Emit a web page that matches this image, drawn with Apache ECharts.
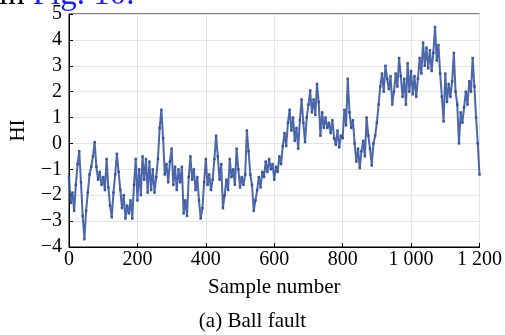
<!DOCTYPE html>
<html>
<head>
<meta charset="utf-8">
<script src="https://cdn.jsdelivr.net/npm/echarts@6/dist/echarts.min.js"></script>
<style>
  html, body { margin: 0; padding: 0; background: #fff; }
  #chart { width: 505px; height: 335px; }
</style>
</head>
<body>
<div id="chart"></div>
<script>
// Health indicator (HI) of the ball-fault bearing, one reading every 5 samples
const sampleStep = 5;
const hiValues = [
  -1.3, -2.3, -1.9, -2.6, -1.6, -0.8, -0.3, -1.5, -2.8, -3.7,
  -2.6, -1.9, -1.2, -0.9, -0.5, 0.05, -0.9, -1.4, -1.1, -1.6,
  -1.3, -1.8, -0.6, -1.7, -2.4, -2.85, -1.9, -1.2, -0.4, -1.1,
  -1.8, -2.5, -2.0, -2.9, -2.4, -2.7, -2.2, -2.9, -1.6, -0.6,
  -2.2, -1.0, -2.0, -0.5, -1.4, -0.6, -1.9, -0.7, -1.8, -1.0,
  -1.9, -1.3, -0.6, 0.6, 1.3, 0.2, -1.2, -0.8, -1.5, -0.7,
  -0.2, -1.6, -0.9, -1.8, -1.0, -1.5, -0.9, -2.7, -2.2, -2.8,
  -1.3, -0.5, -1.4, -1.0, -1.8, -1.3, -2.2, -2.9, -2.5, -1.5,
  -0.6, -1.6, -1.2, -1.8, -1.4, -0.6, 0.3, -0.5, -1.4, -0.8,
  -2.5, -2.0, -1.4, -1.8, -0.6, -1.3, -1.0, -1.6, -0.2, -1.0,
  -1.7, -1.3, -1.6, -1.2, 0.5, -0.3, -1.2, -1.6, -2.6, -2.2,
  -1.8, -1.3, -1.7, -1.1, -1.3, -0.7, -1.1, -0.6, -1.0, -0.8,
  -1.4, -0.9, -1.1, -0.5, -0.8, -0.1, 0.4, -0.1, 0.8, 1.3,
  0.5, 1.0, 0.1, 0.6, -0.2, 0.9, 1.7, 0.8, 0.05, 1.0,
  1.5, 2.05, 1.2, 1.7, 1.1, 2.3, 1.6, 0.3, 1.2, 0.6,
  1.0, 0.6, 0.8, 0.4, 0.9, 0.2, -0.05, 0.5, -0.15, 0.3,
  0.2, 1.3, 0.7, 2.5, 1.2, 0.6, 0.9, 0.0, -0.7, -0.2,
  -0.95, -0.3, 0.1, -0.5, 1.0, 0.3, -0.2, -0.85, 0.0, 0.3,
  0.8, 1.5, 2.2, 2.7, 2.0, 3.0, 2.5, 2.1, 2.6, 1.5,
  2.0, 2.7, 2.2, 3.3, 2.6, 1.8, 2.5, 1.5, 3.1, 2.0,
  2.8, 1.9, 2.6, 1.8, 2.5, 3.3, 2.7, 3.9, 3.0, 3.7,
  2.9, 3.6, 2.8, 3.5, 4.5, 3.2, 3.8, 2.7, 1.8, 0.85,
  2.7, 1.6, 2.3, 1.8, 2.4, 3.5, 2.0, 1.5, 0.0, 1.2,
  0.8, 1.4, 2.0, 1.5, 2.4, 2.0, 3.3, 2.2, 1.0, 0.0,
  -1.2
];
const sampleNumbers = hiValues.map((_, i) => i * sampleStep);

const xTicks = { min: 0, max: 1200, step: 200 };
const yTicks = { min: -4, max: 5, step: 1 };

const xLabel = 'Sample number';
const yLabel = 'HI';
const caption = '(a) Ball fault';

const serif = '"Liberation Serif", "Times New Roman", serif';
const lineColor = '#2d4e9c';

function fmtX(v) {
  // thousands separated by a space: 1 000, 1 200
  const s = String(v);
  return s.length > 3 ? s.slice(0, s.length - 3) + ' ' + s.slice(-3) : s;
}
function fmtY(v) {
  return v < 0 ? '\u2212' + Math.abs(v) : String(v);
}

const chart = echarts.init(document.getElementById('chart'), null, { renderer: 'canvas' });

chart.setOption({
  animation: false,
  backgroundColor: '#fff',
  grid: {
    left: 65, right: 24, top: 14, bottom: 88,
    show: true, borderColor: '#000', borderWidth: 1, backgroundColor: 'transparent'
  },
  xAxis: {
    type: 'value',
    min: xTicks.min, max: xTicks.max, interval: xTicks.step,
    name: xLabel, nameLocation: 'middle', nameGap: 30,
    nameTextStyle: { fontFamily: serif, fontSize: 21, color: '#000' },
    axisLine: { show: true, onZero: false, lineStyle: { color: '#000', width: 1 } },
    axisTick: { show: true, inside: true, length: 4, lineStyle: { color: '#000' } },
    axisLabel: { fontFamily: serif, fontSize: 20, color: '#000', margin: 3, formatter: fmtX },
    splitLine: { show: true, lineStyle: { color: '#e4e4e4', width: 1 } }
  },
  yAxis: {
    type: 'value',
    min: yTicks.min, max: yTicks.max, interval: yTicks.step,
    name: yLabel, nameLocation: 'middle', nameGap: 40, nameRotate: 90,
    nameTextStyle: { fontFamily: serif, fontSize: 21, color: '#000' },
    axisLine: { show: true, onZero: false, lineStyle: { color: '#000', width: 1 } },
    axisTick: { show: true, inside: true, length: 4, lineStyle: { color: '#000' } },
    axisLabel: { fontFamily: serif, fontSize: 20, color: '#000', margin: 7, formatter: fmtY },
    splitLine: { show: true, lineStyle: { color: '#e4e4e4', width: 1 } }
  },
  series: [{
    type: 'line',
    data: sampleNumbers.map((s, i) => [s, hiValues[i]]),
    showSymbol: true,
    symbol: 'rect',
    symbolSize: 2.5,
    itemStyle: { color: lineColor, opacity: 0.9 },
    lineStyle: { color: lineColor, width: 2, opacity: 0.85 },
    clip: true,
    z: 3
  }],
  graphic: [
    {
      type: 'text', left: 'center', top: 311,
      style: { text: caption, font: '21px ' + serif, fill: '#000' }
    },
    {
      type: 'text', x: -26, y: -21,
      style: {
        text: '{b|n in }{l|Fig. 10.}',
        rich: {
          b: { fontFamily: serif, fontSize: 33, fill: '#000', color: '#000' },
          l: { fontFamily: serif, fontSize: 33, fill: '#1a1aff', color: '#1a1aff' }
        }
      }
    }
  ]
});
</script>
</body>
</html>
